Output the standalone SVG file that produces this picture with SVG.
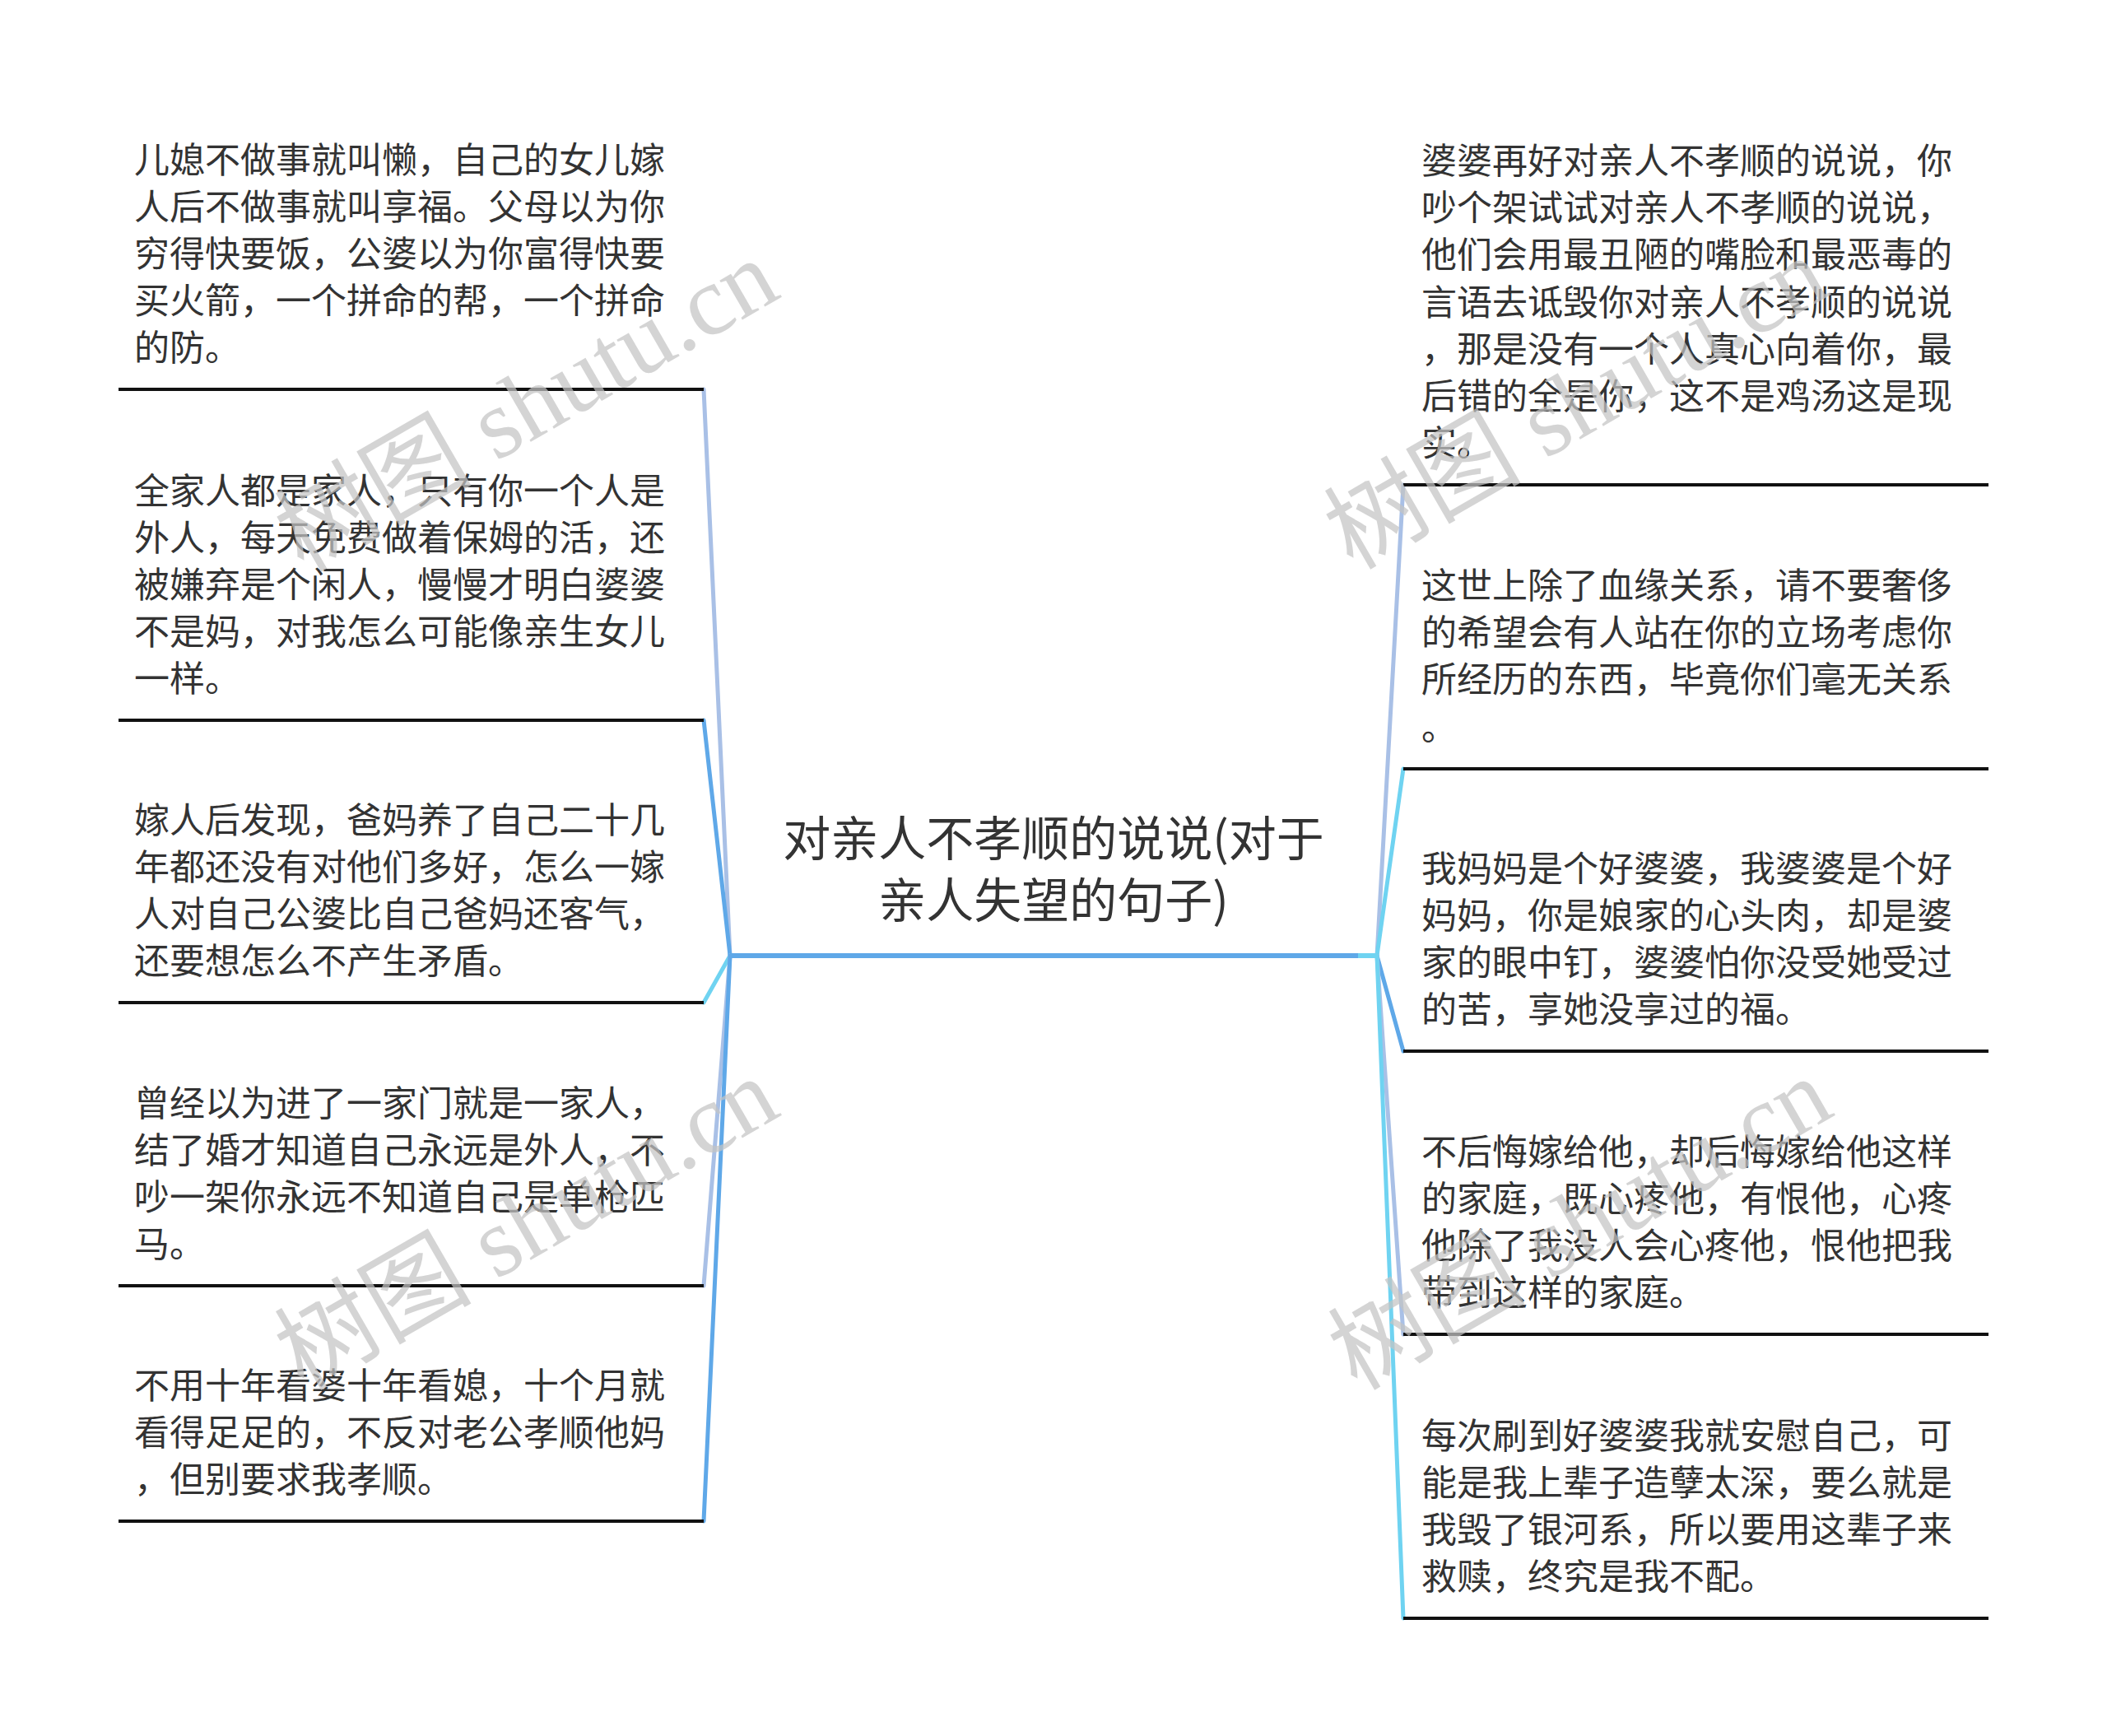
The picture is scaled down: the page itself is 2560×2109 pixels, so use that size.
<svg xmlns="http://www.w3.org/2000/svg" width="2560" height="2109" viewBox="0 0 2560 2109">
<style>
.t{font-family:"Noto Sans CJK SC","Noto Sans",sans-serif;font-size:43px;fill:#333333}
.root{font-family:"Noto Sans CJK SC","Noto Sans",sans-serif;font-size:58px;fill:#333333;text-anchor:middle}
.ul{stroke:#111111;stroke-width:4;fill:none}
.c{fill:none;stroke-width:5;stroke-linecap:round}
.lav{stroke:#a9c0e6}
.blue{stroke:#5fa8e8}
.cyan{stroke:#6fd3f1}
.wm{font-family:"Liberation Serif","Noto Sans CJK SC",serif;font-size:120px;fill:#c4c4c4;fill-opacity:0.72}
</style>
<rect width="2560" height="2109" fill="#ffffff"/>
<g id="connectors">
<line class="c lav" x1="887" y1="1161" x2="855" y2="473"/>
<line class="c blue" x1="887" y1="1161" x2="855" y2="875"/>
<line class="c cyan" x1="887" y1="1161" x2="855" y2="1218"/>
<line class="c lav" x1="887" y1="1161" x2="855" y2="1562"/>
<line class="c blue" x1="887" y1="1161" x2="855" y2="1848"/>
<line class="c lav" x1="1673" y1="1161" x2="1705" y2="589"/>
<line class="c cyan" x1="1673" y1="1161" x2="1705" y2="934"/>
<line class="c blue" x1="1673" y1="1161" x2="1705" y2="1277"/>
<line class="c lav" x1="1673" y1="1161" x2="1705" y2="1621"/>
<line class="c cyan" x1="1673" y1="1161" x2="1705" y2="1966"/>
</g>
<g id="root">
<text class="root"><tspan x="1280" y="1040">对亲人不孝顺的说说(对于</tspan><tspan x="1280" y="1115">亲人失望的句子)</tspan></text>
<line x1="887" y1="1161" x2="1650" y2="1161" stroke="#5fa8e8" stroke-width="6"/>
<line x1="1650" y1="1161" x2="1673" y2="1161" stroke="#6fd3f1" stroke-width="6"/>
</g>
<g id="left1">
<text class="t" x="163" y="210">儿媳不做事就叫懒，自己的女儿嫁</text>
<text class="t" x="163" y="267">人后不做事就叫享福。父母以为你</text>
<text class="t" x="163" y="324">穷得快要饭，公婆以为你富得快要</text>
<text class="t" x="163" y="381">买火箭，一个拼命的帮，一个拼命</text>
<text class="t" x="163" y="438">的防。</text>
<line class="ul" x1="144" y1="473" x2="855" y2="473"/>
</g>
<g id="left2">
<text class="t" x="163" y="612">全家人都是家人，只有你一个人是</text>
<text class="t" x="163" y="669">外人，每天免费做着保姆的活，还</text>
<text class="t" x="163" y="726">被嫌弃是个闲人，慢慢才明白婆婆</text>
<text class="t" x="163" y="783">不是妈，对我怎么可能像亲生女儿</text>
<text class="t" x="163" y="840">一样。</text>
<line class="ul" x1="144" y1="875" x2="855" y2="875"/>
</g>
<g id="left3">
<text class="t" x="163" y="1012">嫁人后发现，爸妈养了自己二十几</text>
<text class="t" x="163" y="1069">年都还没有对他们多好，怎么一嫁</text>
<text class="t" x="163" y="1126">人对自己公婆比自己爸妈还客气，</text>
<text class="t" x="163" y="1183">还要想怎么不产生矛盾。</text>
<line class="ul" x1="144" y1="1218" x2="855" y2="1218"/>
</g>
<g id="left4">
<text class="t" x="163" y="1356">曾经以为进了一家门就是一家人，</text>
<text class="t" x="163" y="1413">结了婚才知道自己永远是外人，不</text>
<text class="t" x="163" y="1470">吵一架你永远不知道自己是单枪匹</text>
<text class="t" x="163" y="1527">马。</text>
<line class="ul" x1="144" y1="1562" x2="855" y2="1562"/>
</g>
<g id="left5">
<text class="t" x="163" y="1699">不用十年看婆十年看媳，十个月就</text>
<text class="t" x="163" y="1756">看得足足的，不反对老公孝顺他妈</text>
<text class="t" x="163" y="1813">，但别要求我孝顺。</text>
<line class="ul" x1="144" y1="1848" x2="855" y2="1848"/>
</g>
<g id="right1">
<text class="t" x="1727" y="211">婆婆再好对亲人不孝顺的说说，你</text>
<text class="t" x="1727" y="268">吵个架试试对亲人不孝顺的说说，</text>
<text class="t" x="1727" y="325">他们会用最丑陋的嘴脸和最恶毒的</text>
<text class="t" x="1727" y="383">言语去诋毁你对亲人不孝顺的说说</text>
<text class="t" x="1727" y="440">，那是没有一个人真心向着你，最</text>
<text class="t" x="1727" y="497">后错的全是你，这不是鸡汤这是现</text>
<text class="t" x="1727" y="554">实。</text>
<line class="ul" x1="1705" y1="589" x2="2416" y2="589"/>
</g>
<g id="right2">
<text class="t" x="1727" y="727">这世上除了血缘关系，请不要奢侈</text>
<text class="t" x="1727" y="784">的希望会有人站在你的立场考虑你</text>
<text class="t" x="1727" y="841">所经历的东西，毕竟你们毫无关系</text>
<text class="t" x="1727" y="899">。</text>
<line class="ul" x1="1705" y1="934" x2="2416" y2="934"/>
</g>
<g id="right3">
<text class="t" x="1727" y="1071">我妈妈是个好婆婆，我婆婆是个好</text>
<text class="t" x="1727" y="1128">妈妈，你是娘家的心头肉，却是婆</text>
<text class="t" x="1727" y="1185">家的眼中钉，婆婆怕你没受她受过</text>
<text class="t" x="1727" y="1242">的苦，享她没享过的福。</text>
<line class="ul" x1="1705" y1="1277" x2="2416" y2="1277"/>
</g>
<g id="right4">
<text class="t" x="1727" y="1415">不后悔嫁给他，却后悔嫁给他这样</text>
<text class="t" x="1727" y="1472">的家庭，既心疼他，有恨他，心疼</text>
<text class="t" x="1727" y="1529">他除了我没人会心疼他，恨他把我</text>
<text class="t" x="1727" y="1586">带到这样的家庭。</text>
<line class="ul" x1="1705" y1="1621" x2="2416" y2="1621"/>
</g>
<g id="right5">
<text class="t" x="1727" y="1760">每次刷到好婆婆我就安慰自己，可</text>
<text class="t" x="1727" y="1817">能是我上辈子造孽太深，要么就是</text>
<text class="t" x="1727" y="1874">我毁了银河系，所以要用这辈子来</text>
<text class="t" x="1727" y="1931">救赎，终究是我不配。</text>
<line class="ul" x1="1705" y1="1966" x2="2416" y2="1966"/>
</g>
<g id="watermarks">
<text class="wm" text-anchor="middle" transform="translate(660,528) rotate(-30)">树图 shutu.cn</text>
<text class="wm" text-anchor="middle" transform="translate(660,1522) rotate(-30)">树图 shutu.cn</text>
<text class="wm" text-anchor="middle" transform="translate(1935,525) rotate(-30)">树图 shutu.cn</text>
<text class="wm" text-anchor="middle" transform="translate(1940,1522) rotate(-30)">树图 shutu.cn</text>
</g>
</svg>
